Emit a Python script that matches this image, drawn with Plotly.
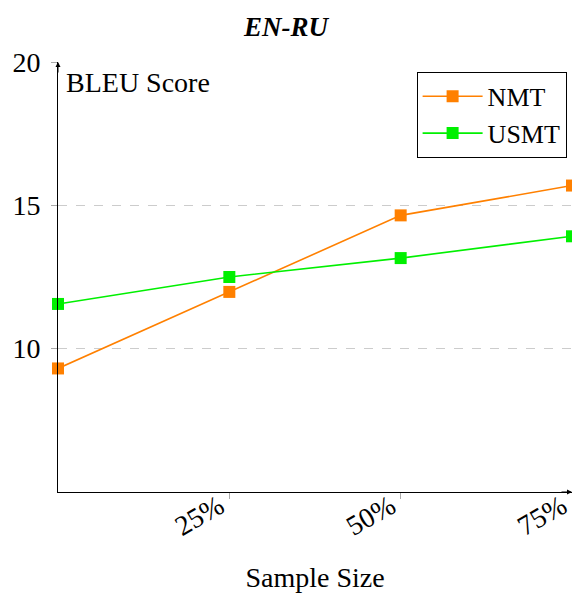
import plotly.graph_objects as go

sizes = [0, 25, 50, 75]
tick_vals = [25, 50, 75]
tick_text = ["25%", "50%", "75%"]
nmt = [9.31, 11.98, 14.65, 15.69]
usmt = [11.56, 12.5, 13.16, 13.92]

SERIF = "Liberation Serif"

fig = go.Figure()
fig.add_trace(go.Scatter(x=sizes, y=nmt, name="NMT", mode="lines+markers",
                         line=dict(color="#ff8000", width=1.6),
                         marker=dict(symbol="square", size=12, color="#ff8000"),
                         cliponaxis=False))
fig.add_trace(go.Scatter(x=sizes, y=usmt, name="USMT", mode="lines+markers",
                         line=dict(color="#00f000", width=1.6),
                         marker=dict(symbol="square", size=12, color="#00f000"),
                         cliponaxis=False))

fig.update_layout(
    width=572, height=594,
    margin=dict(l=58, r=0, t=62, b=102, autoexpand=False),
    paper_bgcolor="white", plot_bgcolor="white",
    font=dict(family=SERIF, size=28, color="black"),
    title=dict(text="<b><i>EN-RU</i></b>", x=0.5, xanchor="center",
               y=0.955, yanchor="middle", font=dict(size=27, family=SERIF)),
    showlegend=True,
    legend=dict(x=0.9895, y=0.977, xanchor="right", yanchor="top",
                bordercolor="black", borderwidth=1, bgcolor="white",
                font=dict(size=26, family=SERIF), itemwidth=60, tracegroupgap=0),
    xaxis=dict(range=[0, 75], tickvals=tick_vals, ticktext=tick_text, tickangle=-30,
               showgrid=False, zeroline=False, showline=True, linecolor="black", linewidth=1,
               ticks="outside", ticklen=6, tickcolor="#aaaaaa", ticklabeloverflow="allow",
               ticklabelstandoff=-20, ticklabelshift=-10, automargin=False,
               title=dict(text="Sample Size", standoff=26, font=dict(size=28))),
    yaxis=dict(range=[5, 20], tickvals=[10, 15, 20], showgrid=True, gridcolor="#cccccc",
               griddash="dash", gridwidth=1, zeroline=False, showline=True,
               linecolor="black", linewidth=1, ticks="outside", ticklen=6, tickcolor="#aaaaaa",
               ticklabelstandoff=5, automargin=False),
)

fig.add_annotation(x=0, y=20, xref="x", yref="y", ax=0, ay=12, showarrow=True,
                   arrowhead=2, arrowsize=1, arrowwidth=1, arrowcolor="black", text="")
fig.add_annotation(x=75, y=5, xref="x", yref="y", ax=-12, ay=0, showarrow=True,
                   arrowhead=2, arrowsize=1, arrowwidth=1, arrowcolor="black", text="")
fig.add_annotation(x=0, y=20, xref="x", yref="y", xanchor="left", yanchor="top",
                   xshift=6, yshift=-3, showarrow=False, text="BLEU Score",
                   font=dict(size=28, family=SERIF))

fig.write_html("out.html", config={"displayModeBar": False},
               post_script="document.body.style.margin='0px';")
